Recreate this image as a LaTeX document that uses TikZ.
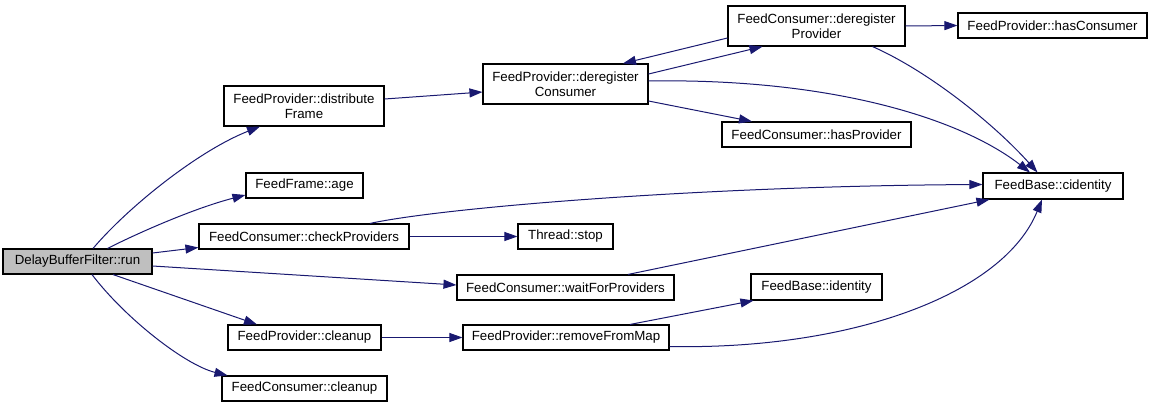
\documentclass[tikz,border=0pt]{standalone}
\usepackage{fontspec}
\setmainfont{Liberation Sans}
\usetikzlibrary{arrows.meta}
\definecolor{edgeblue}{RGB}{25,25,112}
\definecolor{rootfill}{RGB}{191,191,191}
\begin{document}
\begin{tikzpicture}[x=1pt,y=-1pt,
  fn/.style={draw=black, line width=1.1pt, fill=white, inner sep=0pt,
    minimum height=25pt, align=center,
    font=\fontsize{13.3}{14.6}\selectfont},
  fn2/.style={fn, minimum height=40pt},
  root/.style={fn, fill=rootfill},
  call/.style={draw=edgeblue, line width=1pt,
    -{Triangle[length=13pt,width=9pt,color=edgeblue]}}]
\useasboundingbox (0,0) rectangle (1152,407);

% functions
\node[root, minimum width=149pt] (run) at (77.5,261.5) {DelayBufferFilter::run};
\node[fn2, minimum width=160pt] (dist) at (304,106) {FeedProvider::distribute\\Frame};
\node[fn, minimum width=117pt] (age) at (304.5,185.5) {FeedFrame::age};
\node[fn, minimum width=210pt] (check) at (304,236.5) {FeedConsumer::checkProviders};
\node[fn, minimum width=153pt] (pclean) at (304.5,337.5) {FeedProvider::cleanup};
\node[fn, minimum width=165pt] (cclean) at (304.5,388.5) {FeedConsumer::cleanup};
\node[fn2, minimum width=165pt] (dcons) at (565.5,84) {FeedProvider::deregister\\Consumer};
\node[fn, minimum width=95pt] (stop) at (565.5,236.5) {Thread::stop};
\node[fn, minimum width=217pt] (wait) at (565.5,287.5) {FeedConsumer::waitForProviders};
\node[fn, minimum width=206pt] (rmap) at (566,337.5) {FeedProvider::removeFromMap};
\node[fn2, minimum width=177pt] (dprov) at (816.5,26) {FeedConsumer::deregister\\Provider};
\node[fn, minimum width=189pt] (hasprov) at (816.5,134.5) {FeedConsumer::hasProvider};
\node[fn, minimum width=131pt, minimum height=26pt] (ident) at (816.5,287) {FeedBase::identity};
\node[fn, minimum width=189pt] (hascons) at (1052.5,25.5) {FeedProvider::hasConsumer};
\node[fn, minimum width=140pt, minimum height=26pt] (cid) at (1053,186) {FeedBase::cidentity};

% calls from run
\draw[call] ([shift={(15.5,0)}]run.north) .. controls (130,205) and (200,150) .. ([shift={(-44,0)}]dist.south);
\draw[call] ([shift={(30,0)}]run.north) .. controls (140,232) and (195,208) .. ([shift={(0,9.5)}]age.west);
\draw[call] ([shift={(0,-8.5)}]run.east) -- ([shift={(0,11)}]check.west);
\draw[call] ([shift={(0,4.5)}]run.east) -- ([shift={(0,-2.5)}]wait.west);
\draw[call] ([shift={(35.5,0)}]run.south) -- ([shift={(-47.5,0)}]pclean.north);
\draw[call] ([shift={(14.5,0)}]run.south) .. controls (125,318) and (185,365) .. ([shift={(-77,0)}]cclean.north);

% second level
\draw[call] ([shift={(0,-7)}]dist.east) -- ([shift={(0,8)}]dcons.west);
\draw[call] ([shift={(0,-10)}]dcons.east) -- ([shift={(-54,0)}]dprov.south);
\draw[call] ([shift={(0,12)}]dprov.west) -- ([shift={(57.5,0)}]dcons.north);
\draw[call] ([shift={(0,17)}]dcons.east) -- ([shift={(-64.5,0)}]hasprov.north);
\draw[call] ([shift={(0,-3)}]dcons.east) .. controls (830,78) and (960,118) .. ([shift={(-23,0)}]cid.north);
\draw[call] (dprov.east) -- (hascons.west);
\draw[call] ([shift={(56,0)}]dprov.south) .. controls (930,72) and (995,125) .. ([shift={(-15.5,0)}]cid.north);
\draw[call] ([shift={(66,0)}]check.north) .. controls (440,208) and (700,186) .. ([shift={(0,-1.5)}]cid.west);
\draw[call] (check.east) -- (stop.west);
\draw[call] ([shift={(62.5,0)}]wait.north) -- ([shift={(7,0)}]cid.south west);
\draw[call] (pclean.east) -- (rmap.west);
\draw[call] ([shift={(64,0)}]rmap.north) -- ([shift={(3,0)}]ident.south west);
\draw[call] ([shift={(0,9)}]rmap.east) .. controls (850,350) and (1003,295) .. ([shift={(-11,0)}]cid.south);
\end{tikzpicture}
\end{document}
